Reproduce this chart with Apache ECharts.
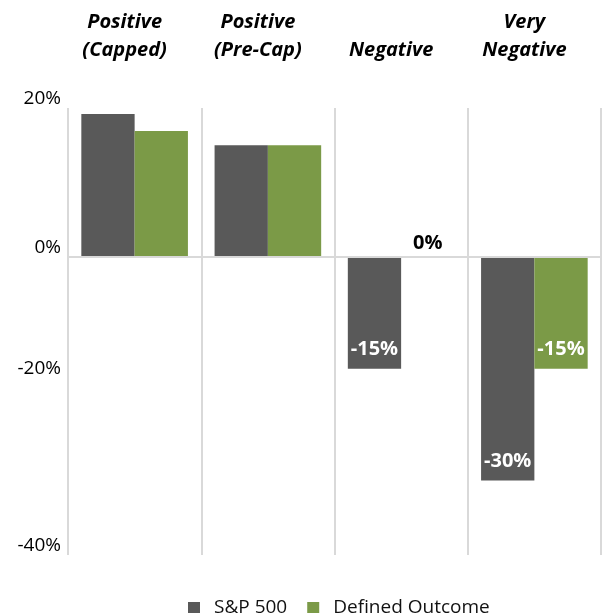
<!DOCTYPE html>
<html>
<head>
<meta charset="utf-8">
<script src="https://cdn.jsdelivr.net/npm/echarts@6/dist/echarts.min.js"></script>
<style>html,body{margin:0;padding:0;background:#fff}#c{width:602px;height:613px}</style>
</head>
<body>
<div id="c"></div>
<script>
const categories = ['Positive\n(Capped)', 'Positive\n(Pre-Cap)', 'Negative', 'Very\nNegative'];
const seriesNames = ['S&P 500', 'Defined Outcome'];
const sp500 = [19.2, 15, -15, -30];
const definedOutcome = [16.9, 15, 0, -15];
const yTickLabels = ['20%', '0%', '-20%', '-40%'];
const yTickAt = [20, 0, -16.2, -40];

const colors = ['#595959', '#7B9A47'];
const FONT = 'Open Sans';

function buildData(vals) {
  return vals.map(v => v === 0
    ? { value: v, label: { position: 'top', color: '#000', distance: 4 } }
    : v);
}

const chart = echarts.init(document.getElementById('c'));
chart.setOption({
  animation: false,
  color: colors,
  textStyle: { fontFamily: FONT },
  grid: { left: 68, right: 1, top: 108, bottom: 58 },
  legend: {
    data: seriesNames,
    left: 183, top: 591,
    icon: 'rect', itemWidth: 12, itemHeight: 12, itemGap: 20,
    textStyle: { fontFamily: FONT, fontSize: 19, color: '#111', padding: [0, 0, 0, 9], lineHeight: 24 }
  },
  xAxis: {
    type: 'category',
    position: 'top',
    data: categories,
    axisLine: { show: false },
    axisTick: { show: false },
    splitLine: { show: true, lineStyle: { color: '#d9d9d9', width: 2 } },
    axisLabel: {
      interval: 0,
      margin: 44,
      fontFamily: FONT,
      fontSize: 20,
      fontWeight: 'bold',
      fontStyle: 'italic',
      color: '#000',
      lineHeight: 28,
      verticalAlign: 'bottom',
      padding: [0, 20, 0, 0]
    }
  },
  yAxis: {
    type: 'value',
    min: -40, max: 20,
    axisLine: { show: false },
    axisTick: { show: false },
    splitLine: { show: false },
    axisLabel: {
      customValues: yTickAt,
      formatter: v => yTickLabels[yTickAt.indexOf(v)],
      fontFamily: FONT,
      fontSize: 19,
      color: '#000',
      margin: 7,
      verticalAlign: 'bottom'
    }
  },
  series: [
    {
      name: seriesNames[0], type: 'bar', data: buildData(sp500),
      barGap: '0%', barCategoryGap: '20%',
      itemStyle: { color: colors[0] },
      label: {
        show: true, position: 'insideBottom', distance: 9,
        color: '#fff', fontFamily: FONT, fontSize: 20, fontWeight: 'bold',
        formatter: p => p.value <= 0 ? p.value + '%' : ''
      },
      markLine: {
        silent: true, symbol: 'none', animation: false,
        label: { show: false },
        lineStyle: { color: '#d9d9d9', width: 2, type: 'solid' },
        data: [{ yAxis: 0 }]
      }
    },
    {
      name: seriesNames[1], type: 'bar', data: buildData(definedOutcome),
      itemStyle: { color: colors[1] },
      label: {
        show: true, position: 'insideBottom', distance: 9,
        color: '#fff', fontFamily: FONT, fontSize: 20, fontWeight: 'bold',
        formatter: p => p.value <= 0 ? p.value + '%' : ''
      }
    }
  ]
});
</script>
</body>
</html>
